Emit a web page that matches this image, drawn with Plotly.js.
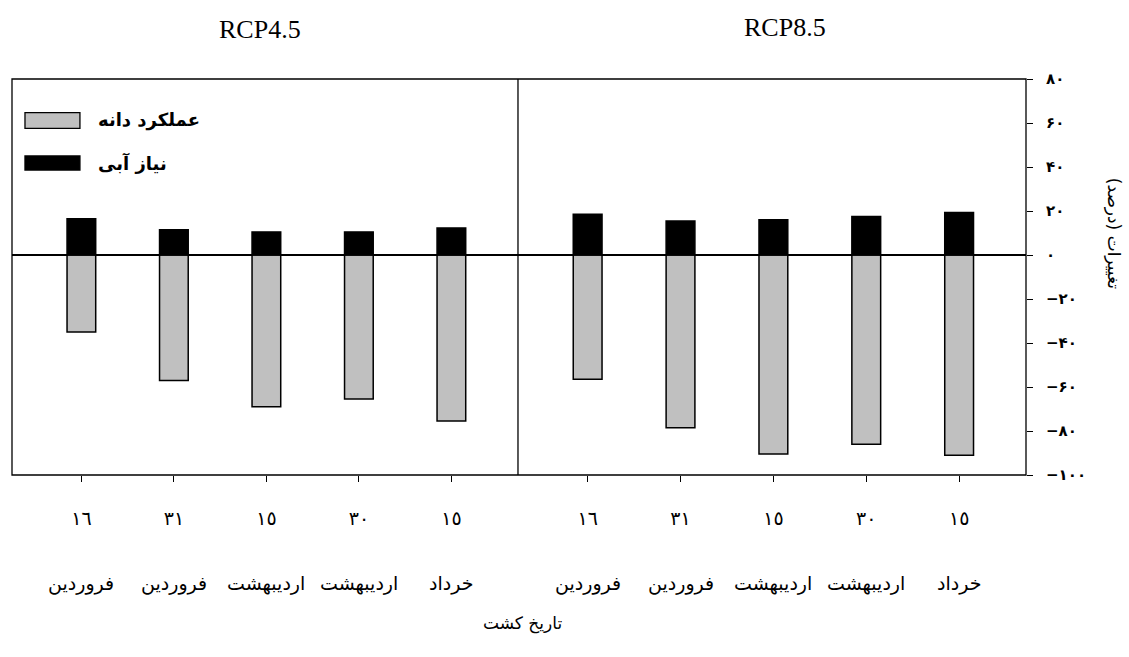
<!DOCTYPE html>
<html>
<head>
<meta charset="utf-8">
<script src="https://cdn.plot.ly/plotly-3.0.1.min.js"></script>
<style>html,body{margin:0;padding:0;background:#fff;}#chart{width:1129px;height:657px;}</style>
</head>
<body>
<div id="chart"></div>
<script>
// ---- data ----
const categories = [0, 1, 2, 3, 4];
const dateLabels = ['١٦', '٣١', '١٥', '٣٠', '١٥'];
const monthLabels = ['فروردین', 'فروردین', 'اردیبهشت', 'اردیبهشت', 'خرداد'];
const yieldRcp45 = [-35, -57, -69, -65.5, -75.5];
const waterRcp45 = [16.5, 11.5, 10.5, 10.5, 12.3];
const yieldRcp85 = [-56.5, -78.5, -90.5, -86, -91];
const waterRcp85 = [18.5, 15.5, 16, 17.5, 19.3];
const yTickVals = [80, 60, 40, 20, 0, -20, -40, -60, -80, -100];
const yTickText = ['۸۰', '۶۰', '۴۰', '۲۰', '۰', '−۲۰', '−۴۰', '−۶۰', '−۸۰', '−۱۰۰'];
const panelTitles = ['RCP4.5', 'RCP8.5'];
const seriesNames = ['عملکرد دانه', 'نیاز آبی'];
const yTitle = 'تغییرات (درصد)';
const xTitle = 'تاریخ کشت';

const GRAY = '#c0c0c0';
const AR = 'DejaVu Sans, sans-serif';

function bar(x, y, xa, color) {
  return {
    type: 'bar', x: x, y: y, xaxis: xa, yaxis: 'y', width: 0.31,
    marker: {color: color, line: {color: '#000', width: 1.5}},
    showlegend: false, hoverinfo: 'x+y'
  };
}

const data = [
  bar(categories, yieldRcp45, 'x', GRAY),
  bar(categories, waterRcp45, 'x', '#000'),
  bar(categories, yieldRcp85, 'x2', GRAY),
  bar(categories, waterRcp85, 'x2', '#000')
];

const xCommon = {
  range: [-0.75, 4.72], tickvals: categories, ticktext: dateLabels,
  ticks: 'outside', ticklen: 6, tickwidth: 1, tickcolor: '#000',
  ticklabelstandoff: 20,
  tickfont: {family: AR, size: 19, color: '#000'},
  showline: false, showgrid: false, zeroline: false, fixedrange: true
};

const annotations = [];
const titleX = [260, 785];
['x', 'x2'].forEach((xa, p) => {
  annotations.push({
    xref: 'paper', yref: 'paper', x: (titleX[p] - 12) / 1014, y: p === 0 ? 1.124 : 1.131,
    xanchor: 'center', yanchor: 'middle',
    text: panelTitles[p], showarrow: false,
    font: {family: 'Liberation Serif, serif', size: 26, color: '#000'}
  });
  categories.forEach((c, i) => {
    annotations.push({
      xref: xa, yref: 'paper', x: c, y: -0.273, xanchor: 'center', yanchor: 'middle',
      text: monthLabels[i], showarrow: false, font: {family: AR, size: 19, color: '#000'}
    });
  });
});
annotations.push({
  xref: 'paper', yref: 'paper', x: 0.503, y: -0.374, xanchor: 'center', yanchor: 'middle',
  text: xTitle, showarrow: false, font: {family: AR, size: 17, color: '#000'}
});
annotations.push({
  xref: 'paper', yref: 'paper', x: 1.087, y: 0.611, xanchor: 'center', yanchor: 'middle',
  text: yTitle, textangle: 90,
  showarrow: false, font: {family: AR, size: 17, color: '#000'}
});
// legend texts
annotations.push({
  xref: 'paper', yref: 'paper', x: 0.083, y: 0.896, xanchor: 'left', yanchor: 'middle',
  text: '<b>' + seriesNames[0] + '</b>',
  showarrow: false, font: {family: AR, size: 18, color: '#000'}
});
annotations.push({
  xref: 'paper', yref: 'paper', x: 0.083, y: 0.788, xanchor: 'left', yanchor: 'middle',
  text: '<b>' + seriesNames[1] + '</b>',
  showarrow: false, font: {family: AR, size: 18, color: '#000'}
});

const shapes = [
  {type: 'rect', xref: 'paper', yref: 'paper', x0: 0, x1: 1, y0: 0, y1: 1, line: {color: '#000', width: 1.3}},
  {type: 'line', xref: 'paper', yref: 'paper', x0: 0.499, x1: 0.499, y0: 0, y1: 1, line: {color: '#000', width: 1.3}},
  {type: 'rect', xref: 'paper', yref: 'paper', x0: 0.0128, x1: 0.067, y0: 0.8755, y1: 0.915, fillcolor: GRAY, line: {color: '#000', width: 1.3}},
  {type: 'rect', xref: 'paper', yref: 'paper', x0: 0.0128, x1: 0.067, y0: 0.770, y1: 0.8056, fillcolor: '#000', line: {color: '#000', width: 1.3}}
];

const layout = {
  width: 1129, height: 657,
  margin: {l: 12, r: 103, t: 79, b: 182},
  paper_bgcolor: '#fff', plot_bgcolor: '#fff',
  barmode: 'relative', bargap: 0,
  showlegend: false,
  xaxis: Object.assign({domain: [0, 0.499], anchor: 'y'}, xCommon),
  xaxis2: Object.assign({domain: [0.499, 1], anchor: 'y'}, xCommon),
  yaxis: {
    anchor: 'x2', side: 'right', range: [-100, 80],
    tickvals: yTickVals, ticktext: yTickText,
    ticks: 'outside', ticklen: 6, tickwidth: 1, tickcolor: '#000',
    ticklabelstandoff: 10,
    tickfont: {family: AR, size: 15, color: '#000', weight: 'bold'},
    showgrid: false, showline: false,
    zeroline: true, zerolinecolor: '#000', zerolinewidth: 1.3, fixedrange: true
  },
  annotations: annotations,
  shapes: shapes
};

Plotly.newPlot('chart', data, layout, {displayModeBar: false, staticPlot: true});
</script>
</body>
</html>
